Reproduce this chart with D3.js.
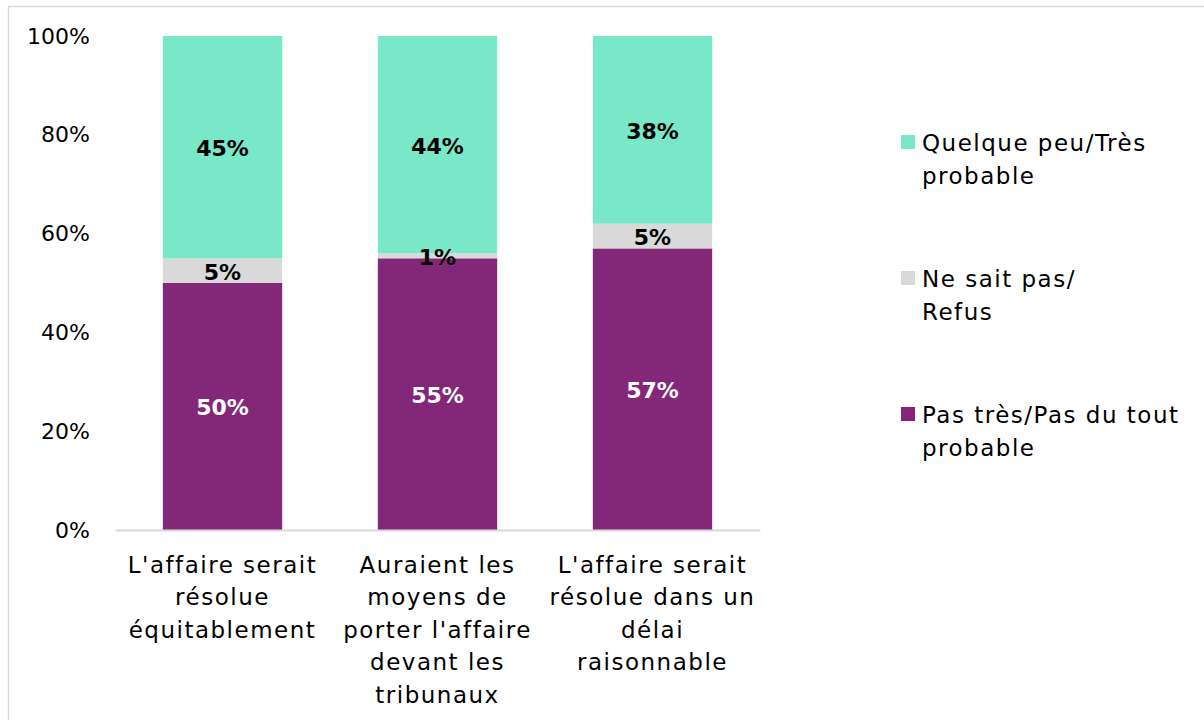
<!DOCTYPE html>
<html><head><meta charset="utf-8">
<script src="https://cdn.jsdelivr.net/npm/d3@7"></script>
<style>body{margin:0;background:#fff}svg{display:block}</style>
</head><body>
<svg id="c" width="1204" height="720"></svg>
<script>
const categories = [
  ["L'affaire serait", "résolue", "équitablement"],
  ["Auraient les", "moyens de", "porter l'affaire", "devant les", "tribunaux"],
  ["L'affaire serait", "résolue dans un", "délai", "raisonnable"]
];
const seriesNames = ["Pas très/Pas du tout probable", "Ne sait pas/ Refus", "Quelque peu/Très probable"];
const pasProbable = [50, 55, 57];
const neSaitPas = [5, 1, 5];
const probable = [45, 44, 38];
const yTicks = [0, 20, 40, 60, 80, 100];
const legendLines = [["Quelque peu/Très", "probable"], ["Ne sait pas/", "Refus"], ["Pas très/Pas du tout", "probable"]];
const colors = ["#832878", "#D9D9D9", "#78E8C8"];
const labelColors = ["#ffffff", "#000000", "#000000"];

const font = "'DejaVu Sans', sans-serif";
const svg = d3.select("#c");
// frame
svg.append("line").attr("x1", 8.5).attr("x2", 8.5).attr("y1", 6.5).attr("y2", 720).attr("stroke", "#d9d9d9").attr("stroke-width", 1.5);
svg.append("line").attr("x1", 8).attr("x2", 1204).attr("y1", 6.5).attr("y2", 6.5).attr("stroke", "#d9d9d9").attr("stroke-width", 1.5);

const x = d3.scaleBand().domain(d3.range(3)).range([115, 760]).paddingInner(0.445).paddingOuter(0.2225);
const y = d3.scaleLinear().domain([0, 100]).range([530, 36]);

const data = d3.range(3).map(i => ({i, a: pasProbable[i], b: neSaitPas[i], c: probable[i]}));
const stack = d3.stack().keys(["a", "b", "c"])(data);

stack.forEach((layer, k) => {
  svg.append("g").selectAll("rect").data(layer).join("rect")
    .attr("x", d => x(d.data.i)).attr("width", x.bandwidth())
    .attr("y", d => y(d[1])).attr("height", d => y(d[0]) - y(d[1]))
    .attr("fill", colors[k]);
});
stack.forEach((layer, k) => {
  svg.append("g").selectAll("text").data(layer).join("text")
    .attr("x", d => x(d.data.i) + x.bandwidth() / 2)
    .attr("y", d => y((d[0] + d[1]) / 2) + 1)
    .attr("dy", "0.36em")
    .attr("text-anchor", "middle")
    .attr("font-family", font).attr("font-weight", "bold").attr("font-size", 22)
    .attr("fill", labelColors[k])
    .text(d => (d[1] - d[0]) + "%");
});

// y axis
const yAxis = d3.axisLeft(y).tickValues(yTicks).tickFormat(d => d + "%").tickSize(0).tickPadding(0);
const gy = svg.append("g").attr("transform", "translate(90,0)").call(yAxis);
gy.select(".domain").remove();
gy.selectAll("text").attr("font-family", font).attr("font-size", 22).attr("fill", "#000");

// x axis baseline
const xAxis = d3.axisBottom(x).tickSize(0).tickFormat("");
const gx = svg.append("g").attr("transform", "translate(0,530)").call(xAxis);
gx.select(".domain").attr("stroke", "#d9d9d9").attr("stroke-width", 2);

// category labels
categories.forEach((lines, i) => {
  const t = svg.append("text").attr("text-anchor", "middle").attr("font-family", font).attr("font-size", 23)
    .attr("letter-spacing", 1.5).attr("fill", "#000");
  lines.forEach((ln, j) => {
    t.append("tspan").attr("x", x(i) + x.bandwidth() / 2).attr("y", 573 + j * 32.4).text(ln);
  });
});

// legend
const legendY = [143, 279, 415];
legendLines.forEach((lines, k) => {
  const col = colors[2 - k];
  svg.append("rect").attr("x", 901).attr("y", legendY[k] - 8).attr("width", 14).attr("height", 14).attr("fill", col);
  const t = svg.append("text").attr("font-family", font).attr("font-size", 23).attr("letter-spacing", 1.5).attr("fill", "#000");
  lines.forEach((ln, j) => {
    t.append("tspan").attr("x", 922).attr("y", legendY[k] + j * 32.4).attr("dy", "0.36em").text(ln);
  });
});
</script>
</body></html>
